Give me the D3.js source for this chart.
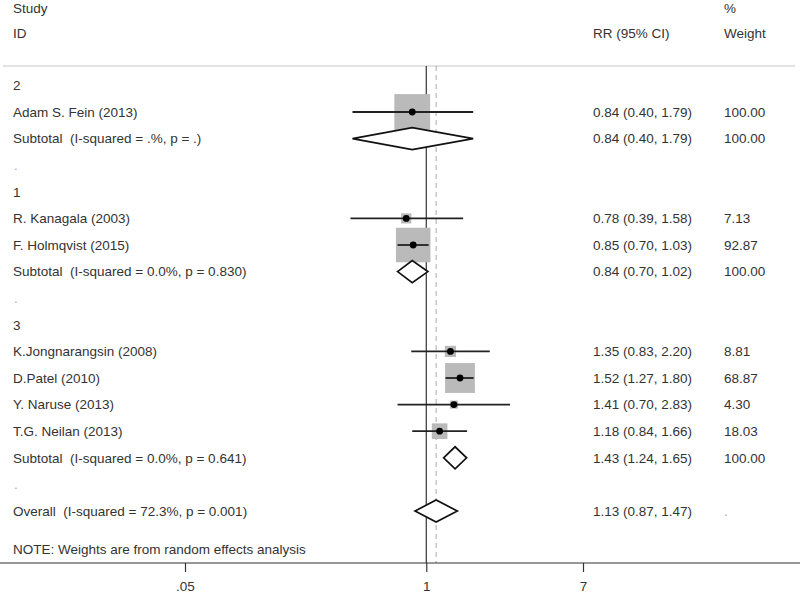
<!DOCTYPE html>
<html>
<head>
<meta charset="utf-8">
<script src="https://cdn.jsdelivr.net/npm/d3@7"></script>
<style>
  body { margin: 0; background: #fff; }
  svg { display: block; }
  text { font-family: "Liberation Sans", Arial, sans-serif; font-size: 13.5px; fill: #333; white-space: pre; }
</style>
</head>
<body>
<svg id="chart" width="800" height="593"></svg>
<script>
// ---- data ----
const rowLabels = [
  "2", "Adam S. Fein (2013)", "Subtotal  (I-squared = .%, p = .)", ".",
  "1", "R. Kanagala (2003)", "F. Holmqvist (2015)", "Subtotal  (I-squared = 0.0%, p = 0.830)", ".",
  "3", "K.Jongnarangsin (2008)", "D.Patel (2010)", "Y. Naruse (2013)", "T.G. Neilan (2013)",
  "Subtotal  (I-squared = 0.0%, p = 0.641)", ".",
  "Overall  (I-squared = 72.3%, p = 0.001)"
];
const rowTypes = [
  "group", "study", "sub", "dot",
  "group", "study", "study", "sub", "dot",
  "group", "study", "study", "study", "study", "sub", "dot",
  "overall"
];
const rr  = [null, 0.84, 0.84, null, null, 0.78, 0.85, 0.84, null, null, 1.35, 1.52, 1.41, 1.18, 1.43, null, 1.13];
const lo  = [null, 0.40, 0.40, null, null, 0.39, 0.70, 0.70, null, null, 0.83, 1.27, 0.70, 0.84, 1.24, null, 0.87];
const hi  = [null, 1.79, 1.79, null, null, 1.58, 1.03, 1.02, null, null, 2.20, 1.80, 2.83, 1.66, 1.65, null, 1.47];
const weightLabels = [null, "100.00", "100.00", null, null, "7.13", "92.87", "100.00", null, null,
                      "8.81", "68.87", "4.30", "18.03", "100.00", null, "."];
const weights = [null, 100, null, null, null, 7.13, 92.87, null, null, null, 8.81, 68.87, 4.30, 18.03, null, null, null];
const tickValues = [0.05, 1, 7];
const tickLabels = [".05", "1", "7"];
const overallRR = 1.13;

// ---- layout ----
const svg = d3.select("#chart");
const x = d3.scaleLog().domain([0.05, 7]).range([185, 583]);
const y = d3.scaleLinear().domain([0, 16]).range([85.4, 511]);
const axisY = 563;
const topY = 66;
const colLabel = 13, colRR = 593, colW = 724;
const fmt = d3.format(".2f");

// header
svg.append("text").attr("x", colLabel).attr("y", 8).attr("dy", "0.35em").text("Study");
svg.append("text").attr("x", colLabel).attr("y", 33).attr("dy", "0.35em").text("ID");
svg.append("text").attr("x", colRR).attr("y", 33).attr("dy", "0.35em").text("RR (95% CI)");
svg.append("text").attr("x", colW).attr("y", 8).attr("dy", "0.35em").text("%");
svg.append("text").attr("x", colW).attr("y", 33).attr("dy", "0.35em").text("Weight");

// separator
svg.append("line").attr("x1", 3).attr("x2", 795).attr("y1", topY).attr("y2", topY)
  .attr("stroke", "#c8c8c8").attr("stroke-width", 1.2);

// null line & overall dashed line
svg.append("line").attr("x1", x(1)).attr("x2", x(1)).attr("y1", topY).attr("y2", axisY)
  .attr("stroke", "#333").attr("stroke-width", 1.2);
svg.append("line").attr("x1", x(overallRR)).attr("x2", x(overallRR)).attr("y1", topY).attr("y2", axisY)
  .attr("stroke", "#aaa").attr("stroke-width", 1).attr("stroke-dasharray", "5,4");

// axis
const axis = d3.axisBottom(x).tickValues(tickValues)
  .tickFormat((d, i) => tickLabels[i]).tickSize(9).tickPadding(9);
const ag = svg.append("g").attr("transform", `translate(0,${axisY})`).call(axis);
ag.select(".domain").remove();
ag.selectAll(".tick line").attr("stroke", "#333").attr("stroke-width", 1.2);
ag.selectAll(".tick text").style("font-family", '"Liberation Sans", Arial, sans-serif')
  .style("font-size", "13.5px").attr("fill", "#333");
svg.append("line").attr("x1", 0).attr("x2", 800).attr("y1", axisY).attr("y2", axisY)
  .attr("stroke", "#333").attr("stroke-width", 1.2);

// rows
rowLabels.forEach((lab, i) => {
  const yy = y(i);
  const t = rowTypes[i];
  svg.append("text").attr("x", colLabel + (t === "dot" ? 1 : 0)).attr("y", yy).attr("dy", "0.35em")
    .style("fill", t === "dot" ? "#aaa" : null)
    .text(lab);
  if (rr[i] != null) {
    svg.append("text").attr("x", colRR).attr("y", yy).attr("dy", "0.35em")
      .text(`${fmt(rr[i])} (${fmt(lo[i])}, ${fmt(hi[i])})`);
  }
  if (weightLabels[i] != null) {
    svg.append("text").attr("x", colW).attr("y", yy).attr("dy", "0.35em")
      .style("fill", weightLabels[i] === "." ? "#aaa" : null)
      .text(weightLabels[i]);
  }
  if (t === "study") {
    const s = 3.5 * Math.sqrt(weights[i]) + 0.8;
    svg.append("rect").attr("x", x(rr[i]) - s / 2).attr("y", yy - s / 2)
      .attr("width", s).attr("height", s).attr("fill", "#bababa");
    svg.append("line").attr("x1", x(lo[i])).attr("x2", x(hi[i])).attr("y1", yy).attr("y2", yy)
      .attr("stroke", "#222").attr("stroke-width", 1.8);
    svg.append("circle").attr("cx", x(rr[i])).attr("cy", yy).attr("r", 3.4).attr("fill", "#000");
  }
  if (t === "sub" || t === "overall") {
    const h = 11;
    const pts = [[x(lo[i]), yy], [x(rr[i]), yy - h], [x(hi[i]), yy], [x(rr[i]), yy + h]];
    svg.append("path").attr("d", d3.line()(pts) + "Z")
      .attr("fill", "#fff").attr("stroke", "#111").attr("stroke-width", 1.7)
      .attr("stroke-linejoin", "miter");
  }
});

// note
svg.append("text").attr("x", colLabel).attr("y", 549).attr("dy", "0.35em")
  .text("NOTE: Weights are from random effects analysis");
</script>
</body>
</html>
